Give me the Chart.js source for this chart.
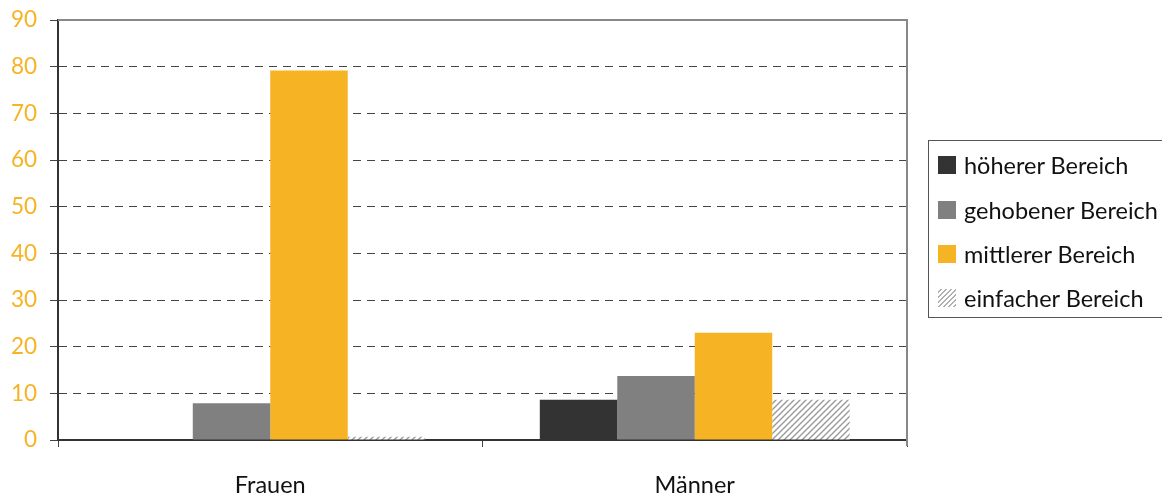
<!DOCTYPE html>
<html>
<head>
<meta charset="utf-8">
<script src="https://cdn.jsdelivr.net/npm/chart.js@4.4.1/dist/chart.umd.min.js"></script>
<style>
  html, body { margin: 0; padding: 0; background: #fff; overflow: hidden; }
  #wrap { position: relative; width: 1162px; height: 495px; }
  #legend {
    position: absolute; left: 928px; top: 140px; width: 245px; height: 178px;
    border: 1px solid #555; box-sizing: border-box;
    font-family: Lato, "DejaVu Sans", sans-serif; font-size: 23.5px; color: #111;
  }
  .item { position: absolute; left: 9px; height: 26px; display: flex; align-items: center; white-space: nowrap; }
  .sw { width: 18px; height: 18px; margin-right: 8px; flex: none; }
</style>
</head>
<body>
<div id="wrap">
  <canvas id="c" width="1162" height="495"></canvas>
  <div id="legend"></div>
</div>
<script>
const categories = ['Frauen', 'Männer'];
const seriesNames = ['höherer Bereich', 'gehobener Bereich', 'mittlerer Bereich', 'einfacher Bereich'];
const hoehererValues = [0, 8.6];
const gehobenerValues = [7.9, 13.7];
const mittlererValues = [79.2, 23.0];
const einfacherValues = [0.7, 8.6];
const yTicks = [0, 10, 20, 30, 40, 50, 60, 70, 80, 90];

const ORANGE = '#F6B323';

// hatched fill for "einfacher Bereich"
function makeHatch() {
  const p = document.createElement('canvas');
  p.width = 6; p.height = 6;
  const g = p.getContext('2d');
  g.fillStyle = '#fff';
  g.fillRect(0, 0, 6, 6);
  g.strokeStyle = '#9a9a9a';
  g.lineWidth = 1.4;
  g.beginPath();
  g.moveTo(0, 6); g.lineTo(6, 0);
  g.moveTo(-3, 3); g.lineTo(3, -3);
  g.moveTo(3, 9); g.lineTo(9, 3);
  g.stroke();
  return document.getElementById('c').getContext('2d').createPattern(p, 'repeat');
}

const colors = ['#333333', '#808080', ORANGE, makeHatch()];
const valueSets = [hoehererValues, gehobenerValues, mittlererValues, einfacherValues];

const frame = {
  id: 'frame',
  afterDraw(chart) {
    const { ctx, chartArea: a } = chart;
    ctx.save();
    ctx.strokeStyle = '#888';
    ctx.lineWidth = 2;
    ctx.beginPath();
    ctx.moveTo(a.left, a.top);
    ctx.lineTo(a.right, a.top);
    ctx.lineTo(a.right, a.bottom + 6);
    ctx.stroke();
    ctx.restore();
  }
};

new Chart(document.getElementById('c'), {
  type: 'bar',
  data: {
    labels: categories,
    datasets: seriesNames.map((name, i) => ({
      label: name,
      data: valueSets[i],
      backgroundColor: colors[i],
      borderWidth: 0,
      categoryPercentage: 0.73,
      barPercentage: 1.0
    }))
  },
  options: {
    responsive: false,
    animation: false,
    layout: { padding: { left: 0, right: 255, top: 20, bottom: 0 } },
    plugins: { legend: { display: false }, tooltip: { enabled: false } },
    scales: {
      x: {
        grid: { display: true, drawOnChartArea: false, offset: true, tickLength: 7, tickColor: '#444', tickWidth: 1 },
        border: { color: '#333', width: 2 },
        ticks: { color: '#111', font: { family: 'Lato, "DejaVu Sans", sans-serif', size: 23.5 }, padding: 24 },
        afterFit(s) { s.height = 55; }
      },
      y: {
        min: 0, max: 90,
        afterBuildTicks(s) { s.ticks = yTicks.map(v => ({ value: v })); },
        grid: {
          color: ctx => (ctx.tick && (ctx.tick.value === 0 || ctx.tick.value === 90)) ? 'rgba(0,0,0,0)' : '#444',
          tickColor: '#444', tickLength: 8, lineWidth: 1
        },
        border: { color: '#333', width: 2, dash: [8, 6] },
        ticks: { color: ORANGE, font: { family: 'Lato, "DejaVu Sans", sans-serif', size: 22.5 }, padding: 13 },
        afterFit(s) { s.width = 58; s.paddingTop = 0; s.paddingBottom = 0; }
      }
    }
  },
  plugins: [frame]
});

// legend
const legend = document.getElementById('legend');
const rowTops = [11, 56, 100, 144];
seriesNames.forEach((name, i) => {
  const it = document.createElement('div');
  it.className = 'item';
  it.style.top = rowTops[i] + 'px';
  const sw = document.createElement('div');
  sw.className = 'sw';
  if (i === 3) {
    sw.style.background = 'repeating-linear-gradient(135deg, #fff 0 2px, #b0b0b0 2px 3.5px)';
  } else {
    sw.style.background = colors[i];
  }
  const t = document.createElement('span');
  t.textContent = name;
  it.appendChild(sw);
  it.appendChild(t);
  legend.appendChild(it);
});
</script>
</body>
</html>
